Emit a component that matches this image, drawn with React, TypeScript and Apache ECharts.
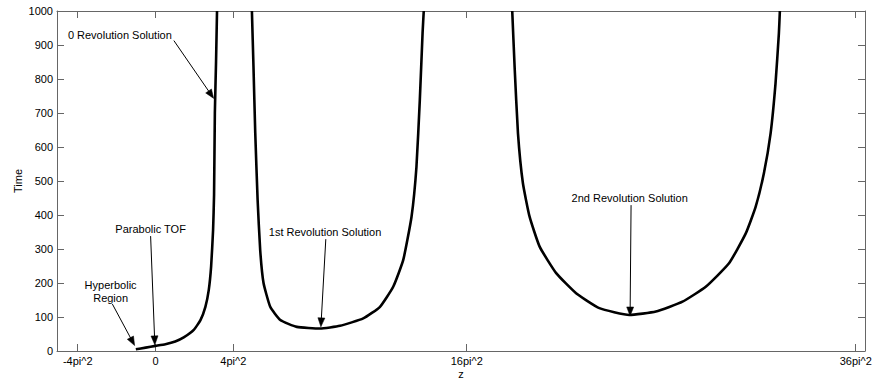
import React, { useEffect, useRef } from "react";
import * as echarts from "echarts";

const PI2 = Math.PI * Math.PI;

// x-axis ticks (z values) and their labels
const xTickValues = [-4 * PI2, 0, 4 * PI2, 16 * PI2, 36 * PI2];
const xTickLabels = ["-4pi^2", "0", "4pi^2", "16pi^2", "36pi^2"];

// 0 revolution branch
const zeroRevZ = [-10, -5, 0, 5, 10, 14.3, 19.4, 22.8, 25.3, 27.0, 28.2, 29.2, 29.7, 30.1, 30.7, 31.2];
const zeroRevT = [5, 10, 15, 20, 28, 40, 62, 91, 130, 179, 248, 356, 460, 700, 850, 1000];

// 1st revolution branch
const firstRevZ = [48.9, 49.7, 50.6, 51.8, 53.1, 54.8, 58.2, 63.3, 71.7, 83.5, 93.6, 105.4, 113.9, 120.6, 125.7, 129.9, 132.4, 134.1, 135.5, 136.1];
const firstRevT = [1000, 836, 641, 444, 297, 200, 130, 91, 71, 66, 74, 96, 130, 189, 268, 395, 542, 738, 935, 1000];

// 2nd revolution branch
const secondRevZ = [181.0, 182.2, 183.9, 186.4, 189.8, 194.9, 203.3, 213.4, 225.2, 240.4, 253.9, 267.4, 279.2, 291.0, 299.5, 304.5, 308.7, 312.1, 314.6, 316.3, 316.8];
const secondRevT = [1000, 836, 641, 494, 395, 307, 229, 170, 126, 106, 116, 145, 189, 258, 346, 424, 523, 640, 787, 934, 1000];

// annotations (in data coordinates: z, Time)
const annTexts = ["0 Revolution Solution", "Parabolic TOF", "Hyperbolic\nRegion", "1st Revolution Solution", "2nd Revolution Solution"];
const annTextAt = [[-18.1, 929], [-2.5, 359], [-22.8, 174], [86.0, 351], [240.6, 449]];
const annArrowFrom = [[9.3, 913], [-2.5, 338], [-21.9, 138], [86.4, 329], [241.3, 429]];
const annArrowTo = [[29.5, 743], [-0.35, 18], [-10.6, 16], [83.9, 71], [240.8, 103]];

const FONT = '"Liberation Sans", Arial, Helvetica, sans-serif';
const AXIS_COLOR = "#666666";

function zip(xs: number[], ys: number[]) {
  return xs.map((x, i) => [x, ys[i]]);
}

export default function App() {
  const ref = useRef<HTMLDivElement>(null);

  useEffect(() => {
    document.body.style.margin = "0";
    if (!ref.current) return;
    const chart = echarts.init(ref.current, null, { renderer: "svg" });

    const labelFmt = (v: number) => {
      const i = xTickValues.findIndex((t) => Math.abs(t - v) < 1e-6);
      return i >= 0 ? xTickLabels[i] : "";
    };

    const lineSeries = (name: string, data: number[][]) => ({
      name,
      type: "line",
      data,
      showSymbol: false,
      symbol: "none",
      smooth: 0.15,
      clip: true,
      lineStyle: { color: "#000000", width: 2.6 },
      xAxisIndex: 0,
      yAxisIndex: 0,
    });

    chart.setOption({
      animation: false,
      backgroundColor: "#ffffff",
      textStyle: { fontFamily: FONT },
      grid: { left: 57, right: 10, top: 11, bottom: 28, containLabel: false, outerBoundsMode: "none" },
      xAxis: [
        {
          type: "value",
          position: "bottom",
          min: -50,
          max: 360,
          name: "z",
          nameLocation: "middle",
          nameGap: 17,
          nameMoveOverlap: false,
          nameTextStyle: { color: "#000", fontSize: 11, fontFamily: FONT },
          axisLine: { show: true, onZero: false, lineStyle: { color: AXIS_COLOR, width: 1 } },
          axisTick: { show: true, inside: true, length: 7, customValues: xTickValues, lineStyle: { color: AXIS_COLOR } },
          axisLabel: { show: true, customValues: xTickValues, formatter: labelFmt, color: "#000", fontSize: 11, margin: 4, fontFamily: FONT },
          splitLine: { show: false },
        },
        {
          type: "value",
          position: "top",
          min: -50,
          max: 360,
          axisLine: { show: true, onZero: false, lineStyle: { color: AXIS_COLOR, width: 1 } },
          axisTick: { show: true, inside: true, length: 7, customValues: xTickValues, lineStyle: { color: AXIS_COLOR } },
          axisLabel: { show: false },
          splitLine: { show: false },
        },
      ],
      yAxis: [
        {
          type: "value",
          position: "left",
          min: 0,
          max: 1000,
          interval: 100,
          name: "Time",
          nameLocation: "middle",
          nameGap: 34,
          nameMoveOverlap: false,
          nameTextStyle: { color: "#000", fontSize: 11, fontFamily: FONT },
          axisLine: { show: true, onZero: false, lineStyle: { color: AXIS_COLOR, width: 1 } },
          axisTick: { show: true, inside: true, length: 7, lineStyle: { color: AXIS_COLOR } },
          axisLabel: { show: true, color: "#000", fontSize: 11, margin: 4, fontFamily: FONT, formatter: (v: number) => String(v) },
          splitLine: { show: false },
        },
        {
          type: "value",
          position: "right",
          min: 0,
          max: 1000,
          interval: 100,
          axisLine: { show: true, onZero: false, lineStyle: { color: AXIS_COLOR, width: 1 } },
          axisTick: { show: true, inside: true, length: 7, lineStyle: { color: AXIS_COLOR } },
          axisLabel: { show: false },
          splitLine: { show: false },
        },
      ],
      series: [
        lineSeries("0 Revolution", zip(zeroRevZ, zeroRevT)),
        lineSeries("1st Revolution", zip(firstRevZ, firstRevT)),
        lineSeries("2nd Revolution", zip(secondRevZ, secondRevT)),
      ],
    });

    const toPx = (p: number[]) => chart.convertToPixel({ xAxisIndex: 0, yAxisIndex: 0 }, p) as number[];
    const graphics: any[] = [];
    annTexts.forEach((txt, i) => {
      const tp = toPx(annTextAt[i]);
      const a = toPx(annArrowFrom[i]);
      const b = toPx(annArrowTo[i]);
      const dx = b[0] - a[0];
      const dy = b[1] - a[1];
      const len = Math.sqrt(dx * dx + dy * dy) || 1;
      const ux = dx / len;
      const uy = dy / len;
      const L = 9;
      const W = 3.5;
      const bx = b[0] - ux * L;
      const by = b[1] - uy * L;
      graphics.push({
        type: "text",
        x: tp[0],
        y: tp[1],
        style: {
          text: txt,
          align: "center",
          verticalAlign: "middle",
          font: `11px ${FONT}`,
          fill: "#000",
          lineHeight: 13,
        },
        z: 10,
      });
      graphics.push({
        type: "line",
        shape: { x1: a[0], y1: a[1], x2: bx + ux * 1, y2: by + uy * 1 },
        style: { stroke: "#000", lineWidth: 1 },
        z: 10,
      });
      graphics.push({
        type: "polygon",
        shape: {
          points: [
            [b[0], b[1]],
            [bx - uy * W, by + ux * W],
            [bx + uy * W, by - ux * W],
          ],
        },
        style: { fill: "#000", stroke: "#000", lineWidth: 0.5 },
        z: 10,
      });
    });
    chart.setOption({ graphic: graphics });

    return () => chart.dispose();
  }, []);

  return <div ref={ref} style={{ width: 875, height: 379 }} />;
}
